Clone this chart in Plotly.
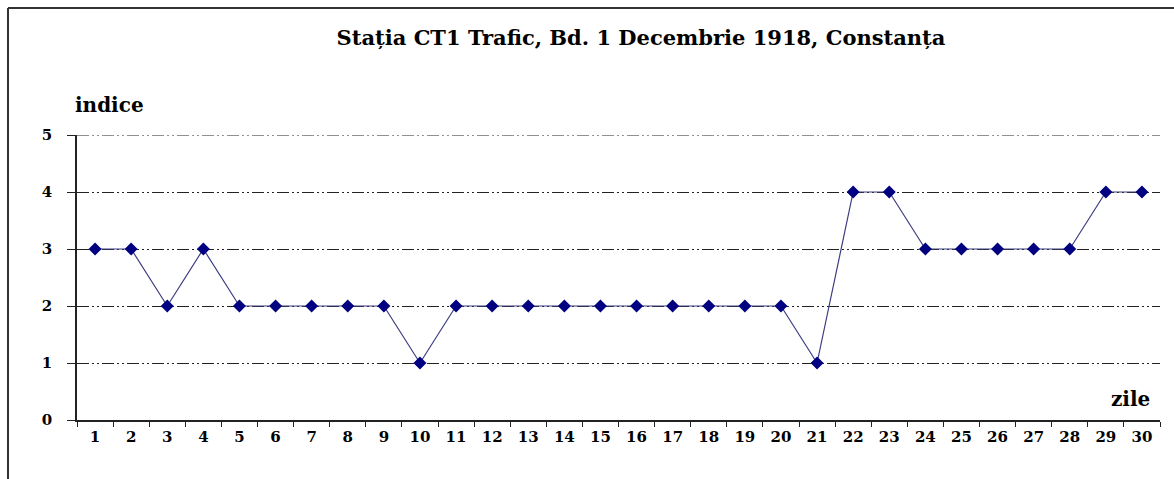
import plotly.graph_objects as go

zile = list(range(1, 31))
indice = [3, 3, 2, 3, 2, 2, 2, 2, 2, 1, 2, 2, 2, 2, 2, 2, 2, 2, 2, 2, 1, 4, 4, 3, 3, 3, 3, 3, 4, 4]
y_ticks = [0, 1, 2, 3, 4, 5]
titlu = "Stația CT1 Trafic, Bd. 1 Decembrie 1918, Constanța"

FONT = "DejaVu Serif, Liberation Serif, serif"
DASH = "12px,3px,2px,3px,2px,3px"

fig = go.Figure()
fig.add_trace(go.Scatter(
    x=zile, y=indice, mode="lines+markers",
    line=dict(color="#3c3c82", width=1.2),
    marker=dict(symbol="diamond", size=10, color="#000080"),
    showlegend=False, cliponaxis=False,
))

L, R, T, B = 77, 14, 135, 59
W, H = 1174, 479
pw = W - L - R
ph = H - T - B

def px_x(px):
    return (px - L) / pw

def px_y(py):
    return (H - B - py) / ph

fig.update_layout(
    width=W, height=H,
    margin=dict(l=L, r=R, t=T, b=B),
    paper_bgcolor="white", plot_bgcolor="white",
    font=dict(family=FONT, color="black", size=14),
    title=dict(text=titlu, x=px_x(641), xref="paper", xanchor="center",
               y=1 - 38 / H, yref="container", yanchor="middle",
               font=dict(family=FONT, size=21, weight="bold", color="black")),
    xaxis=dict(range=[0.5, 30.5], tickvals=zile, ticktext=[str(z) for z in zile],
               ticks="", showgrid=False, zeroline=False,
               showline=True, linecolor="#222", linewidth=1.5,
               tickfont=dict(family=FONT, size=15, weight="bold", color="black"),
               ticklabelstandoff=2,
               minor=dict(tickmode="linear", tick0=0.5, dtick=1, ticks="outside",
                          ticklen=5, tickcolor="#222", tickwidth=1, showgrid=False)),
    yaxis=dict(range=[0, 5], tickvals=y_ticks, ticks="outside", ticklen=8,
               tickcolor="#222", tickwidth=1,
               showgrid=True, gridcolor="#222", gridwidth=1, griddash=DASH,
               zeroline=False, showline=True, linecolor="#222", linewidth=1.5,
               tickfont=dict(family=FONT, size=15, weight="bold", color="black"),
               ticklabelstandoff=12),
)

# top gridline (at the edge of the range)
fig.add_shape(type="line", xref="paper", yref="y", x0=0, x1=1, y0=y_ticks[-1], y1=y_ticks[-1],
              line=dict(color="#222", width=1, dash=DASH), layer="below")

fig.add_annotation(text="indice", xref="paper", yref="paper",
                   x=px_x(73), y=px_y(105), xanchor="left", yanchor="middle",
                   showarrow=False,
                   font=dict(family=FONT, size=20, weight="bold", color="black"))
fig.add_annotation(text="zile", xref="paper", yref="paper",
                   x=px_x(1152), y=px_y(399), xanchor="right", yanchor="middle",
                   showarrow=False,
                   font=dict(family=FONT, size=20, weight="bold", color="black"))

# outer frame (left and top edges)
fig.add_shape(type="line", xref="paper", yref="paper",
              x0=px_x(8), x1=px_x(8), y0=px_y(490), y1=px_y(8),
              line=dict(color="#333", width=2))
fig.add_shape(type="line", xref="paper", yref="paper",
              x0=px_x(8), x1=px_x(1190), y0=px_y(8), y1=px_y(8),
              line=dict(color="#333", width=2))

fig.write_html("out.html", config={"displayModeBar": False},
               post_script="document.body.style.margin='0px';document.body.style.padding='0px';")
